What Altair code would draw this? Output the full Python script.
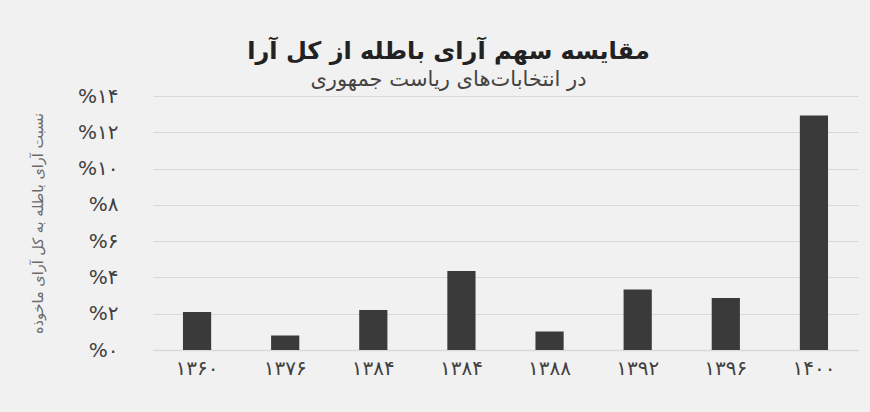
import altair as alt
import pandas as pd

# categories (election keys), their Persian labels, and values (% invalid votes)
keys = ["1360", "1376", "1384-1", "1384-2", "1388", "1392", "1396", "1400"]
x_labels = ["۱۳۶۰", "۱۳۷۶", "۱۳۸۴", "۱۳۸۴", "۱۳۸۸", "۱۳۹۲", "۱۳۹۶", "۱۴۰۰"]
values = [2.1, 0.8, 2.2, 4.35, 1.02, 3.33, 2.87, 12.93]
y_ticks = [0, 2, 4, 6, 8, 10, 12, 14]
y_tick_labels = ["%۰", "%۲", "%۴", "%۶", "%۸", "%۱۰", "%۱۲", "%۱۴"]

title_text = "مقایسه سهم آرای باطله از کل آرا"
subtitle_text = "در انتخابات‌های ریاست جمهوری"
y_title = "نسبت آرای باطله به کل آرای ماخوذه"

df = pd.DataFrame({"key": keys, "value": values})

FONT = "DejaVu Sans"


def ternary(pairs, fallback="''"):
    expr = fallback
    for cond, lab in reversed(pairs):
        expr = f"({cond}) ? '{lab}' : {expr}"
    return expr


x_label_expr = ternary([(f"datum.value == '{k}'", l) for k, l in zip(keys, x_labels)])
y_label_expr = ternary([(f"datum.value == {v}", l) for v, l in zip(y_ticks, y_tick_labels)])

bars = alt.Chart(df).mark_bar(color="#3a3a3a").encode(
    x=alt.X(
        "key:N",
        sort=keys,
        scale=alt.Scale(paddingInner=0.68, paddingOuter=0.34),
        axis=alt.Axis(
            title=None,
            labelExpr=x_label_expr,
            labelAngle=0,
            labelFont=FONT,
            labelFontSize=20,
            labelColor="#404040",
            labelPadding=8,
            ticks=False,
            domain=True,
            domainColor="#d9d9d9",
            domainWidth=1.5,
        ),
    ),
    y=alt.Y(
        "value:Q",
        scale=alt.Scale(domain=[0, 14], nice=False),
        axis=alt.Axis(
            title=y_title,
            values=y_ticks,
            labelExpr=y_label_expr,
            labelFont=FONT,
            labelFontSize=20,
            labelColor="#404040",
            labelPadding=35,
            ticks=False,
            domain=False,
            grid=True,
            gridColor="#d9d9d9",
            gridWidth=1.2,
            titleFont=FONT,
            titleFontSize=14.5,
            titleFontWeight="normal",
            titleColor="#6b6b6b",
            titleAngle=-90,
            titleX=-115,
            titleY=127,
            titleAlign="center",
            titleBaseline="middle",
        ),
    ),
)

chart = bars.properties(
    width=705,
    height=254,
    padding={"left": 153, "top": 96, "right": 12, "bottom": 62},
    autosize=alt.AutoSizeParams(type="none"),
    background="#f1f1f1",
    title=alt.TitleParams(
        text=title_text,
        subtitle=subtitle_text,
        anchor="middle",
        dx=-57,
        offset=-4,
        font=FONT,
        fontSize=24,
        fontWeight="bold",
        color="#222222",
        subtitleFont=FONT,
        subtitleFontSize=21,
        subtitleColor="#444444",
        subtitlePadding=5,
    ),
).configure_view(stroke=None)

chart.save("out.html", embed_options={"renderer": "svg", "actions": False})
